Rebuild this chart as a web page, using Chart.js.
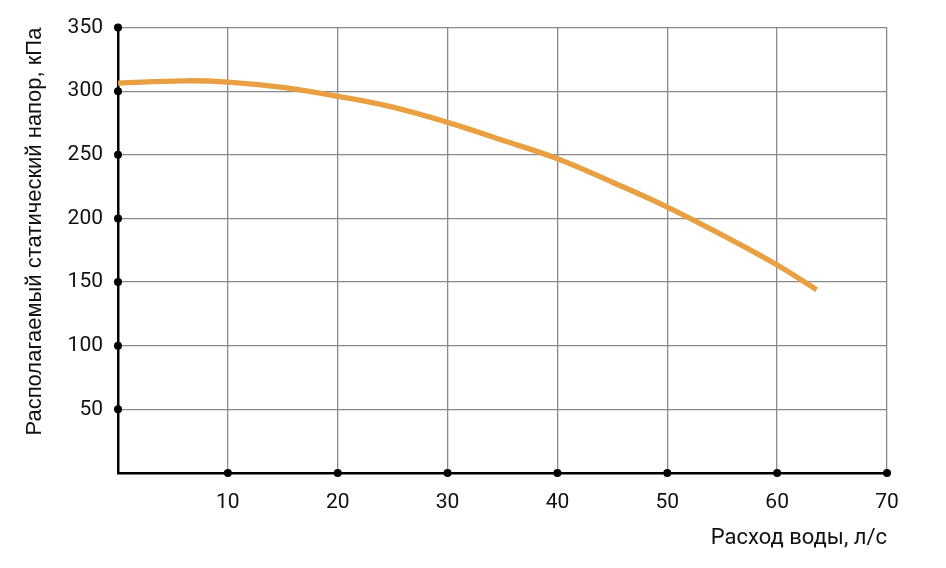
<!DOCTYPE html>
<html>
<head>
<meta charset="utf-8">
<script src="https://cdn.jsdelivr.net/npm/chart.js@4.4.0/dist/chart.umd.min.js"></script>
<style>
    html, body { margin: 0; padding: 0; background: #fff; }
    #wrap { width: 946px; height: 568px; }
</style>
</head>
<body>
<div id="wrap"><canvas id="chart"></canvas></div>
<script>
// расход воды, л/с
const flowValues = [0, 6, 10, 15, 20, 25, 30, 35, 40, 45, 50, 55, 60, 63.6];
// располагаемый статический напор, кПа
const pressureValues = [306.3, 308.2, 307.2, 303, 296, 287.5, 275.5, 261.5, 247, 228.5, 209, 187, 163.5, 144];

const xTicks = [10, 20, 30, 40, 50, 60, 70];
const yTicks = [50, 100, 150, 200, 250, 300, 350];

const tickFont = { family: "Roboto", size: 21 };

// black dots on the axes at every labelled tick
const axisDots = {
    id: "axisDots",
    afterDraw(chart) {
        const ctx = chart.ctx;
        const x = chart.scales.x;
        const y = chart.scales.y;
        ctx.save();
        ctx.fillStyle = "#000";
        xTicks.forEach((v) => {
            ctx.beginPath();
            ctx.arc(x.getPixelForValue(v), y.getPixelForValue(0), 4, 0, Math.PI * 2);
            ctx.fill();
        });
        yTicks.forEach((v) => {
            ctx.beginPath();
            ctx.arc(x.getPixelForValue(0), y.getPixelForValue(v), 4, 0, Math.PI * 2);
            ctx.fill();
        });
        ctx.restore();
    }
};

const ctx = document.getElementById("chart").getContext("2d");
new Chart(ctx, {
    type: "line",
    data: {
        datasets: [
            {
                data: flowValues.map((f, i) => ({ x: f, y: pressureValues[i] })),
                borderColor: "#e8a042",
                borderWidth: 5.3,
                pointRadius: 0,
                tension: 0.4,
                fill: false,
            },
        ],
    },
    options: {
        responsive: true,
        maintainAspectRatio: false,
        animation: false,
        layout: {
            padding: { left: 0, top: 21, right: 59, bottom: 0 },
        },
        plugins: {
            legend: { display: false },
            tooltip: { enabled: false },
        },
        scales: {
            x: {
                type: "linear",
                min: 0,
                max: 70,
                afterBuildTicks: (scale) => {
                    scale.ticks = [0].concat(xTicks).map((v) => ({ value: v }));
                },
                ticks: {
                    padding: 17,
                    color: "#111",
                    font: tickFont,
                    maxRotation: 0,
                    callback: (v) => (v === 0 ? "" : v),
                },
                grid: { color: "#8a8a8a", lineWidth: 1.3, drawTicks: false },
                border: { color: "#000", width: 2.5 },
                title: {
                    display: true,
                    text: "Расход воды, л/с",
                    align: "end",
                    color: "#111",
                    font: { family: "Roboto", size: 22 },
                    padding: { top: 10, bottom: 16 },
                },
                afterFit: (scale) => {
                    scale.height = 95;
                },
            },
            y: {
                min: 0,
                max: 350,
                afterBuildTicks: (scale) => {
                    scale.ticks = [0].concat(yTicks).map((v) => ({ value: v }));
                },
                ticks: {
                    padding: 15,
                    color: "#111",
                    font: tickFont,
                    callback: (v) => (v === 0 ? "" : v),
                },
                grid: { color: "#8a8a8a", lineWidth: 1.3, drawTicks: false },
                border: { color: "#000", width: 2.5 },
                title: {
                    display: true,
                    text: "Располагаемый статический напор, кПа",
                    align: "end",
                    color: "#111",
                    font: { family: "Liberation Sans", size: 22 },
                    padding: { top: 22, bottom: 0 },
                },
                afterFit: (scale) => {
                    scale.width = 118;
                },
            },
        },
    },
    plugins: [axisDots],
});
</script>
</body>
</html>
